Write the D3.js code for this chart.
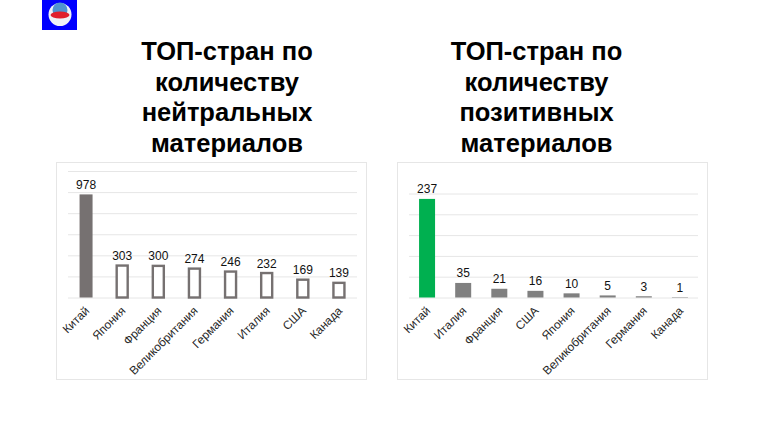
<!DOCTYPE html>
<html><head><meta charset="utf-8">
<script src="https://cdnjs.cloudflare.com/ajax/libs/d3/7.8.5/d3.min.js"></script>
<style>html,body{margin:0;padding:0;background:#fff}svg{display:block}text{font-family:"Liberation Sans",Arial,sans-serif}</style>
</head><body><svg id="c" width="768" height="432"></svg>
<script>
const titleLeft = ["ТОП-стран по","количеству","нейтральных","материалов"];
const titleRight = ["ТОП-стран по","количеству","позитивных","материалов"];
const catsLeft = ["Китай","Япония","Франция","Великобритания","Германия","Италия","США","Канада"];
const valsLeft = [978,303,300,274,246,232,169,139];
const catsRight = ["Китай","Италия","Франция","США","Япония","Великобритания","Германия","Канада"];
const valsRight = [237,35,21,16,10,5,3,1];
const ticksLeft = [0,200,400,600,800,1000,1200];
const ticksRight = [0,50,100,150,200,250];

const svg = d3.select("#c");
const logo = svg.append("g");
logo.append("rect").attr("x",42).attr("y",0).attr("width",35).attr("height",30).attr("fill","#0000ff");
logo.append("circle").attr("cx",60).attr("cy",14.5).attr("r",11.5).attr("fill","#eef3f8");
logo.append("circle").attr("cx",60).attr("cy",10).attr("r",7.5).attr("fill","#4f94cf");
logo.append("ellipse").attr("cx",60).attr("cy",15).attr("rx",9.5).attr("ry",3.5).attr("fill","#e0202c");

function panel(o){
  const g = svg.append("g");
  g.append("rect").attr("x",o.box[0]+.5).attr("y",162.5).attr("width",o.box[1]-o.box[0]).attr("height",217)
    .attr("fill","#fff").attr("stroke","#e6e6e6").attr("stroke-width",1);
  const t = g.append("text").attr("text-anchor","middle").attr("font-weight","bold")
    .attr("font-size",25.5).attr("fill","#000");
  o.title.forEach((s,i)=>t.append("tspan").attr("x",o.tc).attr("y",60+i*30.6).text(s));
  const x = d3.scaleBand().domain(o.cats).range(o.xr);
  const y = d3.scaleLinear().domain([0,o.ticks[o.ticks.length-1]]).range([297.5,o.top]);
  const gridAxis = d3.axisLeft(y).tickValues(o.ticks).tickSize(-(o.xr[1]-o.xr[0])).tickFormat("");
  const ga = g.append("g").attr("transform",`translate(${o.xr[0]},0)`).call(gridAxis);
  ga.select(".domain").remove();
  ga.selectAll("line").attr("stroke","#e6e6e6").attr("stroke-width",1);
  const cx = d=>x(d)+x.bandwidth()/2;
  g.selectAll(".bar").data(o.vals).join("rect")
    .attr("x",(d,i)=>cx(o.cats[i])-o.bw/2+(o.hollow&&i?1:0)).attr("y",d=>y(d))
    .attr("width",(d,i)=>o.bw-(o.hollow&&i?2:0)).attr("height",d=>297.5-y(d))
    .attr("fill",(d,i)=>o.fill(i)).attr("stroke",(d,i)=>o.hollow&&i?"#767171":"none")
    .attr("stroke-width",o.hollow?2.4:0);
  g.selectAll(".val").data(o.vals).join("text")
    .attr("x",(d,i)=>cx(o.cats[i])).attr("y",d=>y(d)-5.5)
    .attr("text-anchor","middle").attr("font-size",12).attr("fill","#111").text(d=>d);
  const xa = d3.axisBottom(x).tickSize(0).tickPadding(0);
  const ax = g.append("g").attr("transform","translate(0,297.5)").call(xa);
  ax.select(".domain").remove();
  ax.selectAll("text").attr("font-size",11.8).attr("fill","#262626").attr("font-family",null)
    .attr("text-anchor","end").attr("dy",null).attr("y",null)
    .attr("transform","translate(4,14) rotate(-45)");
}
panel({box:[56,366],tc:227,title:titleLeft,cats:catsLeft,vals:valsLeft,ticks:ticksLeft,xr:[68,357],top:171,bw:13,hollow:true,
  fill:i=>i?"#fff":"#767171"});
panel({box:[397,707],tc:536.5,title:titleRight,cats:catsRight,vals:valsRight,ticks:ticksRight,xr:[409,698],top:193.5,bw:16,hollow:false,
  fill:i=>i?"#808080":"#00b050"});
</script></body></html>
